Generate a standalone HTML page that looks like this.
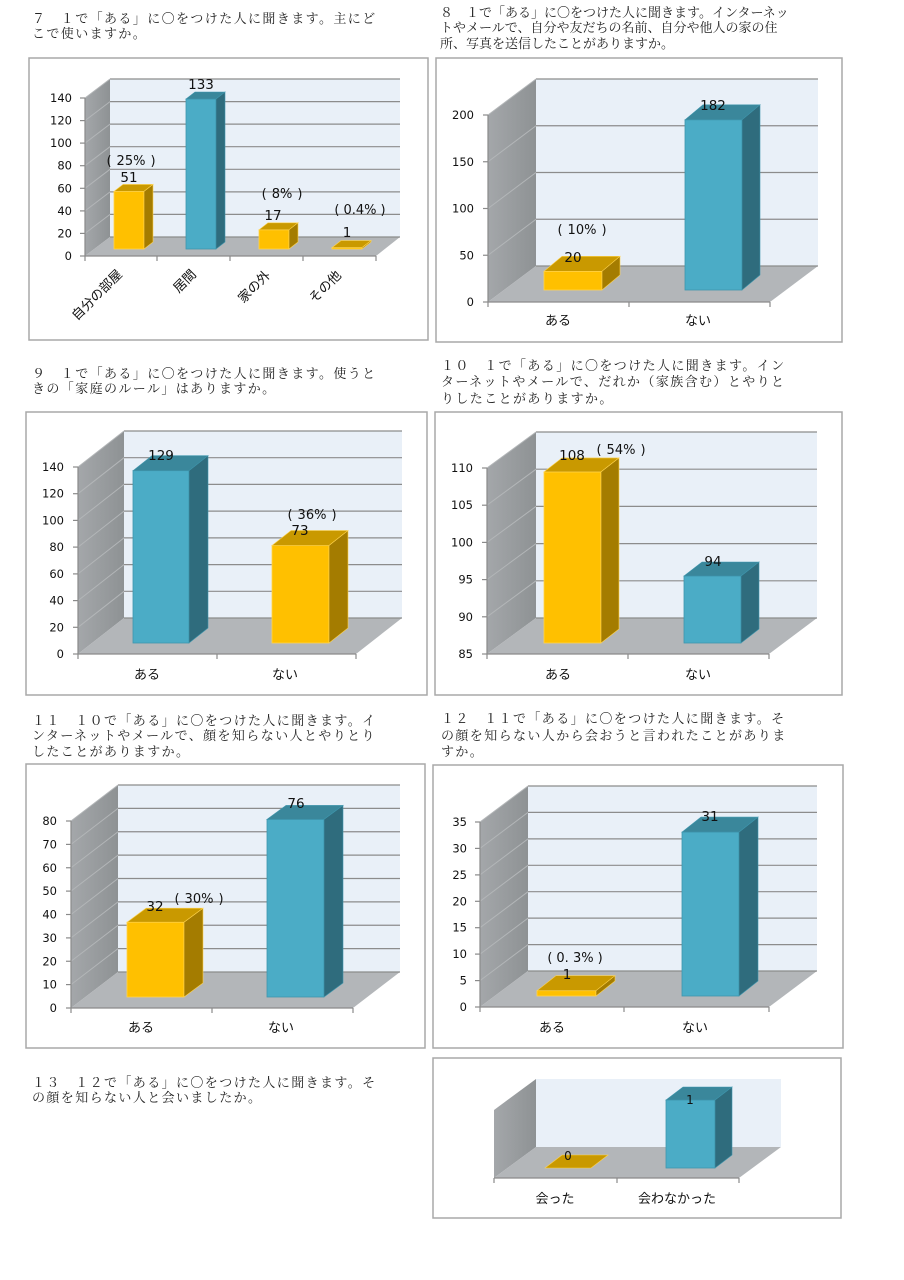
<!DOCTYPE html>
<html><head><meta charset="utf-8"><style>
html,body{margin:0;padding:0;background:#fff;}
svg{display:block;}
.q{font-family:"Liberation Serif","Noto Serif CJK JP",serif;font-size:13px;fill:#222;}
.ls{letter-spacing:1.4px;}
.yl{font-family:"DejaVu Sans","Liberation Sans",sans-serif;font-size:11.5px;fill:#111;text-anchor:end;}
.dl{font-family:"DejaVu Sans","Noto Sans CJK JP",sans-serif;font-size:13.5px;fill:#111;text-anchor:middle;}
.pl{font-family:"DejaVu Sans","Noto Sans CJK JP",sans-serif;font-size:13px;fill:#111;text-anchor:middle;}
.xl{font-family:"Liberation Sans","Noto Sans CJK JP",sans-serif;font-size:13px;fill:#111;text-anchor:middle;}
.xr{font-family:"Liberation Sans","Noto Sans CJK JP",sans-serif;font-size:13px;fill:#111;text-anchor:end;}
.box{fill:#fff;stroke:#a8a8a8;stroke-width:1.5;}
.bw{fill:#e9f0f8;}
.fl{fill:#b3b6b9;}
.gl{stroke:#8c8c8c;stroke-width:1.2;fill:none;}
.dg{stroke:#b3b6b8;stroke-width:1;fill:none;}
.ax{stroke:#8a8a8a;stroke-width:1.2;fill:none;}
.yf{fill:#ffc000;stroke:#ffd34d;stroke-width:0.8;}
.yt{fill:#c99900;stroke:#ffd34d;stroke-width:0.6;}
.ys{fill:#a47c00;stroke:#ffd34d;stroke-width:0.6;}
.bf{fill:#4bacc6;stroke:#3f96ad;stroke-width:0.8;}
.bt{fill:#3a879b;stroke:#3f96ad;stroke-width:0.6;}
.bs{fill:#2f6c7d;stroke:#3f96ad;stroke-width:0.6;}
</style></head><body>
<svg width="904" height="1280" viewBox="0 0 904 1280" xmlns="http://www.w3.org/2000/svg">
<defs>
<linearGradient id="sw" x1="0" y1="0" x2="1" y2="0">
<stop offset="0" stop-color="#a4a7aa"/><stop offset="1" stop-color="#8e9294"/>
</linearGradient>
</defs>
<rect width="904" height="1280" fill="#fff"/>

<!-- ===== Chart Q7 ===== -->
<text class="q ls" x="32" y="23">７　１で「ある」に〇をつけた人に聞きます。主にど</text>
<text class="q ls" x="32" y="38">こで使いますか。</text>
<rect class="box" x="29" y="58" width="399" height="282"/>
<polygon class="bw" points="110,79 400,79 400,237 110,237"/>
<g class="gl">
<line x1="110" y1="79" x2="400" y2="79"/><line x1="110" y1="101.6" x2="400" y2="101.6"/>
<line x1="110" y1="124.1" x2="400" y2="124.1"/><line x1="110" y1="146.7" x2="400" y2="146.7"/>
<line x1="110" y1="169.3" x2="400" y2="169.3"/><line x1="110" y1="191.9" x2="400" y2="191.9"/>
<line x1="110" y1="214.4" x2="400" y2="214.4"/>
</g>
<polygon fill="url(#sw)" points="85,98 110,79 110,237 85,256"/>
<g class="dg">
<line x1="85" y1="98" x2="110" y2="79"/><line x1="85" y1="120.6" x2="110" y2="101.6"/>
<line x1="85" y1="143.1" x2="110" y2="124.1"/><line x1="85" y1="165.7" x2="110" y2="146.7"/>
<line x1="85" y1="188.3" x2="110" y2="169.3"/><line x1="85" y1="210.9" x2="110" y2="191.9"/>
<line x1="85" y1="233.4" x2="110" y2="214.4"/>
</g>
<polygon class="fl" points="85,256 110,237 400,237 376,256"/>
<line class="gl" x1="110" y1="237" x2="400" y2="237"/>
<g class="ax">
<line x1="85" y1="98" x2="85" y2="256"/><line x1="85" y1="256" x2="376" y2="256"/>
<line x1="80" y1="98" x2="85" y2="98"/><line x1="80" y1="120.6" x2="85" y2="120.6"/>
<line x1="80" y1="143.1" x2="85" y2="143.1"/><line x1="80" y1="165.7" x2="85" y2="165.7"/>
<line x1="80" y1="188.3" x2="85" y2="188.3"/><line x1="80" y1="210.9" x2="85" y2="210.9"/>
<line x1="80" y1="233.4" x2="85" y2="233.4"/><line x1="80" y1="256" x2="85" y2="256"/>
<line x1="85" y1="256" x2="85" y2="261"/><line x1="157" y1="256" x2="157" y2="261"/>
<line x1="230" y1="256" x2="230" y2="261"/><line x1="303" y1="256" x2="303" y2="261"/>
<line x1="376" y1="256" x2="376" y2="261"/>
</g>
<text class="yl" x="72" y="260">0</text><text class="yl" x="72" y="237.4">20</text>
<text class="yl" x="72" y="214.9">40</text><text class="yl" x="72" y="192.3">60</text>
<text class="yl" x="72" y="169.7">80</text><text class="yl" x="72" y="147.1">100</text>
<text class="yl" x="72" y="124.6">120</text><text class="yl" x="72" y="102">140</text>
<rect class="yf" x="114" y="191.4" width="30" height="57.6"/>
<polygon class="yt" points="114,191.4 123,184.4 153,184.4 144,191.4"/>
<polygon class="ys" points="144,191.4 153,184.4 153,242 144,249"/>
<rect class="bf" x="186" y="99" width="30" height="150"/>
<polygon class="bt" points="186,99 195,92 225,92 216,99"/>
<polygon class="bs" points="216,99 225,92 225,242 216,249"/>
<rect class="yf" x="259" y="229.8" width="30" height="19.2"/>
<polygon class="yt" points="259,229.8 268,222.8 298,222.8 289,229.8"/>
<polygon class="ys" points="289,229.8 298,222.8 298,242 289,249"/>
<rect class="yf" x="332" y="247.6" width="30" height="1.4"/>
<polygon class="yt" points="332,247.6 341,240.6 371,240.6 362,247.6"/>
<polygon class="ys" points="362,247.6 371,240.6 371,242 362,249"/>
<text class="dl" x="201" y="89">133</text>
<text class="pl" x="131" y="165">(<tspan dx="5">25%</tspan><tspan dx="5">)</tspan></text>
<text class="dl" x="129" y="182">51</text>
<text class="pl" x="282" y="198">(<tspan dx="5">8%</tspan><tspan dx="5">)</tspan></text>
<text class="dl" x="273" y="220">17</text>
<text class="pl" x="360" y="214">(<tspan dx="4">0.4%</tspan><tspan dx="4">)</tspan></text>
<text class="dl" x="347" y="237">1</text>
<text class="xr" transform="translate(123,275) rotate(-45)">自分の部屋</text>
<text class="xr" transform="translate(197,275) rotate(-45)">居間</text>
<text class="xr" transform="translate(271,276) rotate(-45)">家の外</text>
<text class="xr" transform="translate(342,276) rotate(-45)">その他</text>

<!-- ===== Chart Q8 ===== -->
<text class="q" x="440" y="17">８　１で「ある」に〇をつけた人に聞きます。インターネッ</text>
<text class="q" x="440" y="32">トやメールで、自分や友だちの名前、自分や他人の家の住</text>
<text class="q" x="440" y="48">所、写真を送信したことがありますか。</text>
<rect class="box" x="436" y="58" width="406" height="284"/>
<polygon class="bw" points="536,79 818,79 818,266 536,266"/>
<g class="gl">
<line x1="536" y1="79" x2="818" y2="79"/><line x1="536" y1="125.75" x2="818" y2="125.75"/>
<line x1="536" y1="172.5" x2="818" y2="172.5"/><line x1="536" y1="219.25" x2="818" y2="219.25"/>
</g>
<polygon fill="url(#sw)" points="488,115 536,79 536,266 488,302"/>
<g class="dg">
<line x1="488" y1="115" x2="536" y2="79"/><line x1="488" y1="161.75" x2="536" y2="125.75"/>
<line x1="488" y1="208.5" x2="536" y2="172.5"/><line x1="488" y1="255.25" x2="536" y2="219.25"/>
</g>
<polygon class="fl" points="488,302 536,266 818,266 770,302"/>
<line class="gl" x1="536" y1="266" x2="818" y2="266"/>
<g class="ax">
<line x1="488" y1="115" x2="488" y2="302"/><line x1="488" y1="302" x2="770" y2="302"/>
<line x1="483" y1="115" x2="488" y2="115"/><line x1="483" y1="161.75" x2="488" y2="161.75"/>
<line x1="483" y1="208.5" x2="488" y2="208.5"/><line x1="483" y1="255.25" x2="488" y2="255.25"/>
<line x1="483" y1="302" x2="488" y2="302"/>
<line x1="488" y1="302" x2="488" y2="307"/><line x1="629" y1="302" x2="629" y2="307"/>
<line x1="770" y1="302" x2="770" y2="307"/>
</g>
<text class="yl" x="474" y="306">0</text><text class="yl" x="474" y="259.25">50</text>
<text class="yl" x="474" y="212.5">100</text><text class="yl" x="474" y="165.75">150</text>
<text class="yl" x="474" y="119">200</text>
<rect class="yf" x="544" y="271.3" width="58" height="18.7"/>
<polygon class="yt" points="544,271.3 562,256.3 620,256.3 602,271.3"/>
<polygon class="ys" points="602,271.3 620,256.3 620,275 602,290"/>
<rect class="bf" x="685" y="119.8" width="57" height="170.2"/>
<polygon class="bt" points="685,119.8 703,104.8 760,104.8 742,119.8"/>
<polygon class="bs" points="742,119.8 760,104.8 760,275 742,290"/>
<text class="dl" x="713" y="110">182</text>
<text class="dl" x="573" y="262">20</text>
<text class="pl" x="582" y="234">(<tspan dx="5">10%</tspan><tspan dx="5">)</tspan></text>
<text class="xl" x="558" y="325">ある</text>
<text class="xl" x="698" y="325">ない</text>

<!-- ===== Chart Q9 ===== -->
<text class="q ls" x="32" y="378">９　１で「ある」に〇をつけた人に聞きます。使うと</text>
<text class="q ls" x="32" y="393">きの「家庭のルール」はありますか。</text>
<rect class="box" x="26" y="412" width="401" height="283"/>
<polygon class="bw" points="124,431 402,431 402,618 124,618"/>
<g class="gl">
<line x1="124" y1="431" x2="402" y2="431"/><line x1="124" y1="457.7" x2="402" y2="457.7"/>
<line x1="124" y1="484.4" x2="402" y2="484.4"/><line x1="124" y1="511.1" x2="402" y2="511.1"/>
<line x1="124" y1="537.9" x2="402" y2="537.9"/><line x1="124" y1="564.6" x2="402" y2="564.6"/>
<line x1="124" y1="591.3" x2="402" y2="591.3"/>
</g>
<polygon fill="url(#sw)" points="78,467 124,431 124,618 78,654"/>
<g class="dg">
<line x1="78" y1="467" x2="124" y2="431"/><line x1="78" y1="493.7" x2="124" y2="457.7"/>
<line x1="78" y1="520.4" x2="124" y2="484.4"/><line x1="78" y1="547.1" x2="124" y2="511.1"/>
<line x1="78" y1="573.9" x2="124" y2="537.9"/><line x1="78" y1="600.6" x2="124" y2="564.6"/>
<line x1="78" y1="627.3" x2="124" y2="591.3"/>
</g>
<polygon class="fl" points="78,654 124,618 402,618 356,654"/>
<line class="gl" x1="124" y1="618" x2="402" y2="618"/>
<g class="ax">
<line x1="78" y1="467" x2="78" y2="654"/><line x1="78" y1="654" x2="356" y2="654"/>
<line x1="73" y1="467" x2="78" y2="467"/><line x1="73" y1="493.7" x2="78" y2="493.7"/>
<line x1="73" y1="520.4" x2="78" y2="520.4"/><line x1="73" y1="547.1" x2="78" y2="547.1"/>
<line x1="73" y1="573.9" x2="78" y2="573.9"/><line x1="73" y1="600.6" x2="78" y2="600.6"/>
<line x1="73" y1="627.3" x2="78" y2="627.3"/><line x1="73" y1="654" x2="78" y2="654"/>
<line x1="78" y1="654" x2="78" y2="659"/><line x1="217" y1="654" x2="217" y2="659"/>
<line x1="356" y1="654" x2="356" y2="659"/>
</g>
<text class="yl" x="64" y="658">0</text><text class="yl" x="64" y="631.3">20</text>
<text class="yl" x="64" y="604.6">40</text><text class="yl" x="64" y="577.9">60</text>
<text class="yl" x="64" y="551.1">80</text><text class="yl" x="64" y="524.4">100</text>
<text class="yl" x="64" y="497.7">120</text><text class="yl" x="64" y="471">140</text>
<rect class="bf" x="133" y="470.7" width="56" height="172.3"/>
<polygon class="bt" points="133,470.7 152,455.7 208,455.7 189,470.7"/>
<polygon class="bs" points="189,470.7 208,455.7 208,628 189,643"/>
<rect class="yf" x="272" y="545.5" width="57" height="97.5"/>
<polygon class="yt" points="272,545.5 291,530.5 348,530.5 329,545.5"/>
<polygon class="ys" points="329,545.5 348,530.5 348,628 329,643"/>
<text class="dl" x="161" y="460">129</text>
<text class="pl" x="312" y="519">(<tspan dx="5">36%</tspan><tspan dx="5">)</tspan></text>
<text class="dl" x="300" y="535">73</text>
<text class="xl" x="147" y="679">ある</text>
<text class="xl" x="285" y="679">ない</text>

<!-- ===== Chart Q10 ===== -->
<text class="q ls" x="441" y="370">１０　１で「ある」に〇をつけた人に聞きます。イン</text>
<text class="q ls" x="441" y="386">ターネットやメールで、だれか（家族含む）とやりと</text>
<text class="q ls" x="441" y="403">りしたことがありますか。</text>
<rect class="box" x="435" y="412" width="407" height="283"/>
<polygon class="bw" points="536,432 817,432 817,618 536,618"/>
<g class="gl">
<line x1="536" y1="432" x2="817" y2="432"/><line x1="536" y1="469.2" x2="817" y2="469.2"/>
<line x1="536" y1="506.4" x2="817" y2="506.4"/><line x1="536" y1="543.6" x2="817" y2="543.6"/>
<line x1="536" y1="580.8" x2="817" y2="580.8"/>
</g>
<polygon fill="url(#sw)" points="487,468 536,432 536,618 487,654"/>
<g class="dg">
<line x1="487" y1="468" x2="536" y2="432"/><line x1="487" y1="505.2" x2="536" y2="469.2"/>
<line x1="487" y1="542.4" x2="536" y2="506.4"/><line x1="487" y1="579.6" x2="536" y2="543.6"/>
<line x1="487" y1="616.8" x2="536" y2="580.8"/>
</g>
<polygon class="fl" points="487,654 536,618 817,618 769,654"/>
<line class="gl" x1="536" y1="618" x2="817" y2="618"/>
<g class="ax">
<line x1="487" y1="468" x2="487" y2="654"/><line x1="487" y1="654" x2="769" y2="654"/>
<line x1="482" y1="468" x2="487" y2="468"/><line x1="482" y1="505.2" x2="487" y2="505.2"/>
<line x1="482" y1="542.4" x2="487" y2="542.4"/><line x1="482" y1="579.6" x2="487" y2="579.6"/>
<line x1="482" y1="616.8" x2="487" y2="616.8"/><line x1="482" y1="654" x2="487" y2="654"/>
<line x1="487" y1="654" x2="487" y2="659"/><line x1="628" y1="654" x2="628" y2="659"/>
<line x1="769" y1="654" x2="769" y2="659"/>
</g>
<text class="yl" x="473" y="658">85</text><text class="yl" x="473" y="620.8">90</text>
<text class="yl" x="473" y="583.6">95</text><text class="yl" x="473" y="546.4">100</text>
<text class="yl" x="473" y="509.2">105</text><text class="yl" x="473" y="472">110</text>
<rect class="yf" x="544" y="471.9" width="57" height="171.1"/>
<polygon class="yt" points="544,471.9 562,457.9 619,457.9 601,471.9"/>
<polygon class="ys" points="601,471.9 619,457.9 619,629 601,643"/>
<rect class="bf" x="684" y="576" width="57" height="67"/>
<polygon class="bt" points="684,576 702,562 759,562 741,576"/>
<polygon class="bs" points="741,576 759,562 759,629 741,643"/>
<text class="dl" x="572" y="460">108</text>
<text class="pl" x="621" y="454">(<tspan dx="5">54%</tspan><tspan dx="5">)</tspan></text>
<text class="dl" x="713" y="566">94</text>
<text class="xl" x="558" y="679">ある</text>
<text class="xl" x="698" y="679">ない</text>

<!-- ===== Chart Q11 ===== -->
<text class="q ls" x="32" y="725">１１　１０で「ある」に〇をつけた人に聞きます。イ</text>
<text class="q ls" x="32" y="740">ンターネットやメールで、顔を知らない人とやりとり</text>
<text class="q ls" x="32" y="756">したことがありますか。</text>
<rect class="box" x="26" y="764" width="399" height="284"/>
<polygon class="bw" points="118,785 400,785 400,972 118,972"/>
<g class="gl">
<line x1="118" y1="785" x2="400" y2="785"/><line x1="118" y1="808.4" x2="400" y2="808.4"/>
<line x1="118" y1="831.75" x2="400" y2="831.75"/><line x1="118" y1="855.1" x2="400" y2="855.1"/>
<line x1="118" y1="878.5" x2="400" y2="878.5"/><line x1="118" y1="901.9" x2="400" y2="901.9"/>
<line x1="118" y1="925.25" x2="400" y2="925.25"/><line x1="118" y1="948.6" x2="400" y2="948.6"/>
</g>
<polygon fill="url(#sw)" points="71,821 118,785 118,972 71,1008"/>
<g class="dg">
<line x1="71" y1="821" x2="118" y2="785"/><line x1="71" y1="844.4" x2="118" y2="808.4"/>
<line x1="71" y1="867.75" x2="118" y2="831.75"/><line x1="71" y1="891.1" x2="118" y2="855.1"/>
<line x1="71" y1="914.5" x2="118" y2="878.5"/><line x1="71" y1="937.9" x2="118" y2="901.9"/>
<line x1="71" y1="961.25" x2="118" y2="925.25"/><line x1="71" y1="984.6" x2="118" y2="948.6"/>
</g>
<polygon class="fl" points="71,1008 118,972 400,972 353,1008"/>
<line class="gl" x1="118" y1="972" x2="400" y2="972"/>
<g class="ax">
<line x1="71" y1="821" x2="71" y2="1008"/><line x1="71" y1="1008" x2="353" y2="1008"/>
<line x1="66" y1="821" x2="71" y2="821"/><line x1="66" y1="844.4" x2="71" y2="844.4"/>
<line x1="66" y1="867.75" x2="71" y2="867.75"/><line x1="66" y1="891.1" x2="71" y2="891.1"/>
<line x1="66" y1="914.5" x2="71" y2="914.5"/><line x1="66" y1="937.9" x2="71" y2="937.9"/>
<line x1="66" y1="961.25" x2="71" y2="961.25"/><line x1="66" y1="984.6" x2="71" y2="984.6"/>
<line x1="66" y1="1008" x2="71" y2="1008"/>
<line x1="71" y1="1008" x2="71" y2="1013"/><line x1="212" y1="1008" x2="212" y2="1013"/>
<line x1="353" y1="1008" x2="353" y2="1013"/>
</g>
<text class="yl" x="57" y="1012">0</text><text class="yl" x="57" y="988.6">10</text>
<text class="yl" x="57" y="965.3">20</text><text class="yl" x="57" y="941.9">30</text>
<text class="yl" x="57" y="918.5">40</text><text class="yl" x="57" y="895.1">50</text>
<text class="yl" x="57" y="871.8">60</text><text class="yl" x="57" y="848.4">70</text>
<text class="yl" x="57" y="825">80</text>
<rect class="yf" x="127" y="922.2" width="57" height="74.8"/>
<polygon class="yt" points="127,922.2 146,908.2 203,908.2 184,922.2"/>
<polygon class="ys" points="184,922.2 203,908.2 203,983 184,997"/>
<rect class="bf" x="267" y="819.4" width="57" height="177.6"/>
<polygon class="bt" points="267,819.4 286,805.4 343,805.4 324,819.4"/>
<polygon class="bs" points="324,819.4 343,805.4 343,983 324,997"/>
<text class="dl" x="296" y="808">76</text>
<text class="dl" x="155" y="911">32</text>
<text class="pl" x="199" y="903">(<tspan dx="5">30%</tspan><tspan dx="5">)</tspan></text>
<text class="xl" x="141" y="1032">ある</text>
<text class="xl" x="281" y="1032">ない</text>

<!-- ===== Chart Q12 ===== -->
<text class="q ls" x="441" y="723">１２　１１で「ある」に〇をつけた人に聞きます。そ</text>
<text class="q ls" x="441" y="740">の顔を知らない人から会おうと言われたことがありま</text>
<text class="q ls" x="441" y="756">すか。</text>
<rect class="box" x="433" y="765" width="410" height="283"/>
<polygon class="bw" points="528,786 817,786 817,971 528,971"/>
<g class="gl">
<line x1="528" y1="786" x2="817" y2="786"/><line x1="528" y1="812.4" x2="817" y2="812.4"/>
<line x1="528" y1="838.9" x2="817" y2="838.9"/><line x1="528" y1="865.3" x2="817" y2="865.3"/>
<line x1="528" y1="891.7" x2="817" y2="891.7"/><line x1="528" y1="918.1" x2="817" y2="918.1"/>
<line x1="528" y1="944.6" x2="817" y2="944.6"/>
</g>
<polygon fill="url(#sw)" points="480,822 528,786 528,971 480,1007"/>
<g class="dg">
<line x1="480" y1="822" x2="528" y2="786"/><line x1="480" y1="848.4" x2="528" y2="812.4"/>
<line x1="480" y1="874.9" x2="528" y2="838.9"/><line x1="480" y1="901.3" x2="528" y2="865.3"/>
<line x1="480" y1="927.7" x2="528" y2="891.7"/><line x1="480" y1="954.1" x2="528" y2="918.1"/>
<line x1="480" y1="980.6" x2="528" y2="944.6"/>
</g>
<polygon class="fl" points="480,1007 528,971 817,971 769,1007"/>
<line class="gl" x1="528" y1="971" x2="817" y2="971"/>
<g class="ax">
<line x1="480" y1="822" x2="480" y2="1007"/><line x1="480" y1="1007" x2="769" y2="1007"/>
<line x1="475" y1="822" x2="480" y2="822"/><line x1="475" y1="848.4" x2="480" y2="848.4"/>
<line x1="475" y1="874.9" x2="480" y2="874.9"/><line x1="475" y1="901.3" x2="480" y2="901.3"/>
<line x1="475" y1="927.7" x2="480" y2="927.7"/><line x1="475" y1="954.1" x2="480" y2="954.1"/>
<line x1="475" y1="980.6" x2="480" y2="980.6"/><line x1="475" y1="1007" x2="480" y2="1007"/>
<line x1="480" y1="1007" x2="480" y2="1012"/><line x1="624" y1="1007" x2="624" y2="1012"/>
<line x1="769" y1="1007" x2="769" y2="1012"/>
</g>
<text class="yl" x="467" y="1011">0</text><text class="yl" x="467" y="984.6">5</text>
<text class="yl" x="467" y="958.1">10</text><text class="yl" x="467" y="931.7">15</text>
<text class="yl" x="467" y="905.3">20</text><text class="yl" x="467" y="878.9">25</text>
<text class="yl" x="467" y="852.4">30</text><text class="yl" x="467" y="826">35</text>
<rect class="yf" x="537" y="990.7" width="59" height="5.3"/>
<polygon class="yt" points="537,990.7 556,975.7 615,975.7 596,990.7"/>
<polygon class="ys" points="596,990.7 615,975.7 615,981 596,996"/>
<rect class="bf" x="682" y="832.1" width="57" height="163.9"/>
<polygon class="bt" points="682,832.1 701,817.1 758,817.1 739,832.1"/>
<polygon class="bs" points="739,832.1 758,817.1 758,981 739,996"/>
<text class="dl" x="710" y="821">31</text>
<text class="dl" x="567" y="979">1</text>
<text class="pl" x="575" y="962">(<tspan dx="4">0. 3%</tspan><tspan dx="4">)</tspan></text>
<text class="xl" x="552" y="1032">ある</text>
<text class="xl" x="695" y="1032">ない</text>

<!-- ===== Chart Q13 ===== -->
<text class="q ls" x="32" y="1087">１３　１２で「ある」に〇をつけた人に聞きます。そ</text>
<text class="q ls" x="32" y="1102">の顔を知らない人と会いましたか。</text>
<rect class="box" x="433" y="1058" width="408" height="160"/>
<polygon class="bw" points="536,1079 781,1079 781,1147 536,1147"/>
<polygon fill="url(#sw)" points="494,1110 536,1079 536,1147 494,1178"/>
<polygon class="fl" points="494,1178 536,1147 781,1147 739,1178"/>
<g class="ax">
<line x1="494" y1="1178" x2="739" y2="1178"/>
<line x1="494" y1="1178" x2="494" y2="1183"/><line x1="617" y1="1178" x2="617" y2="1183"/>
<line x1="739" y1="1178" x2="739" y2="1183"/>
</g>
<polygon class="yt" points="545,1168 562,1155 608,1155 591,1168"/>
<rect class="bf" x="666" y="1100" width="49" height="68"/>
<polygon class="bt" points="666,1100 683,1087 732,1087 715,1100"/>
<polygon class="bs" points="715,1100 732,1087 732,1155 715,1168"/>
<text class="dl" x="690" y="1104" style="font-size:12px">1</text>
<text class="dl" x="568" y="1160" style="font-size:12px">0</text>
<text class="xl" x="555" y="1203">会った</text>
<text class="xl" x="677" y="1203">会わなかった</text>
</svg>
</body></html>
